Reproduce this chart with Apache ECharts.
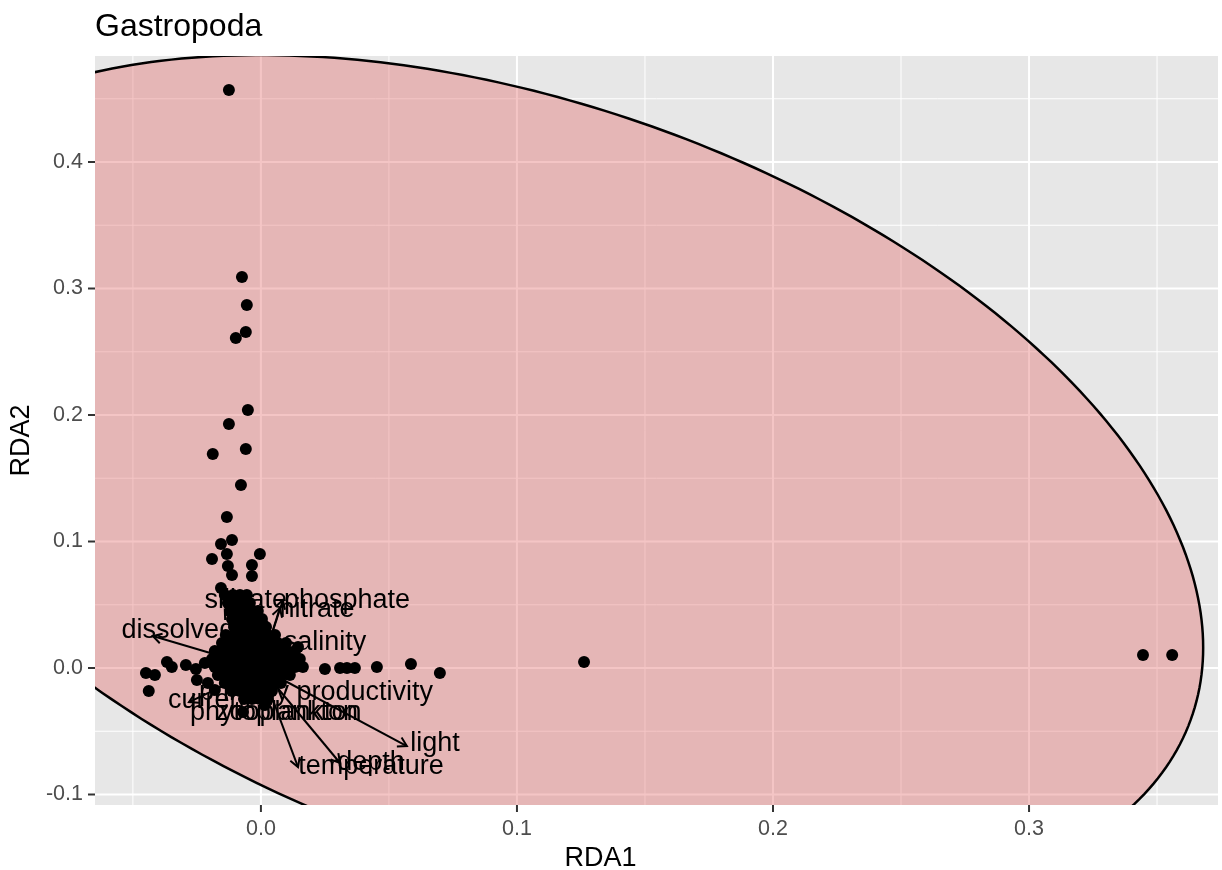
<!DOCTYPE html>
<html>
<head>
<meta charset="utf-8">
<script src="https://cdn.jsdelivr.net/npm/echarts@6/dist/echarts.min.js"></script>
<style>html,body{margin:0;padding:0;background:#fff}#chart{width:1222px;height:870px}</style>
</head>
<body>
<div id="chart"></div>
<script>
const FONT = '"Liberation Sans", Arial, Helvetica, sans-serif';

// axis ranges and ticks
const xRange = [-0.0648, 0.3738];
const yRange = [-0.1083, 0.4838];
const xTicks = [0, 0.1, 0.2, 0.3];
const xMinorTicks = [-0.05, 0.05, 0.15, 0.25, 0.35];
const yTicks = [-0.1, 0, 0.1, 0.2, 0.3, 0.4];
const yMinorTicks = [-0.05, 0.05, 0.15, 0.25, 0.35, 0.45];

// site scores (RDA1, RDA2)
const outlierSites = [
  [-0.0125,0.4569],[-0.0074,0.3091],[-0.0055,0.2870],[-0.0059,0.2656],[-0.0098,0.2609],
  [-0.0051,0.2040],[-0.0125,0.1929],[-0.0059,0.1731],[-0.0188,0.1692],[-0.0078,0.1447],
  [-0.0133,0.1194],[-0.0113,0.1012],[-0.0156,0.0980],[-0.0004,0.0901],[-0.0191,0.0862],
  [-0.0133,0.0901],[-0.0129,0.0806],[-0.0035,0.0814],[-0.0035,0.0727],[-0.0113,0.0735],
  [-0.0156,0.0632],[0.1262,0.0047],[0.3445,0.0103],[0.3559,0.0103]
];
const armSites = [
  [-0.0449,-0.0040],[-0.0414,-0.0055],[-0.0438,-0.0182],[-0.0367,0.0047],[-0.0348,0.0008],
  [-0.0293,0.0024],[-0.0254,-0.0008],[-0.0219,0.0040],[-0.0207,-0.0119],[-0.0250,-0.0095],
  [0.0145,0.0166],[0.0250,-0.0008],[0.0309,0.0000],[0.0336,0.0000],[0.0367,0.0000],
  [0.0453,0.0008],[0.0586,0.0032],[0.0699,-0.0040]
];
const clusterSites = [
  [-0.0141,0.0577],[-0.0109,0.0577],[-0.0082,0.0577],[-0.0055,0.0577],
  [-0.0129,0.0514],[-0.0098,0.0514],[-0.0066,0.0514],[-0.0043,0.0514],
  [-0.0121,0.0451],[-0.0090,0.0451],[-0.0059,0.0451],[-0.0031,0.0451],[-0.0012,0.0451],
  [-0.0113,0.0387],[-0.0082,0.0387],[-0.0051,0.0387],[-0.0023,0.0387],[0.0004,0.0387],
  [-0.0105,0.0324],[-0.0074,0.0324],[-0.0043,0.0324],[-0.0012,0.0324],[0.0020,0.0324],
  [-0.0137,0.0261],[-0.0098,0.0261],[-0.0066,0.0261],[-0.0035,0.0261],[-0.0004,0.0261],[0.0027,0.0261],[0.0055,0.0261],
  [-0.0152,0.0198],[-0.0121,0.0198],[-0.0090,0.0198],[-0.0059,0.0198],[-0.0027,0.0198],[0.0004,0.0198],[0.0035,0.0198],[0.0066,0.0198],[0.0098,0.0198],
  [-0.0180,0.0134],[-0.0148,0.0134],[-0.0117,0.0134],[-0.0086,0.0134],[-0.0055,0.0134],[-0.0023,0.0134],[0.0008,0.0134],[0.0039,0.0134],[0.0070,0.0134],[0.0102,0.0134],[0.0133,0.0134],
  [-0.0191,0.0071],[-0.0160,0.0071],[-0.0129,0.0071],[-0.0098,0.0071],[-0.0066,0.0071],[-0.0035,0.0071],[-0.0004,0.0071],[0.0027,0.0071],[0.0059,0.0071],[0.0090,0.0071],[0.0121,0.0071],[0.0152,0.0071],
  [-0.0180,0.0008],[-0.0148,0.0008],[-0.0117,0.0008],[-0.0086,0.0008],[-0.0055,0.0008],[-0.0023,0.0008],[0.0008,0.0008],[0.0039,0.0008],[0.0070,0.0008],[0.0102,0.0008],[0.0133,0.0008],[0.0164,0.0008],
  [-0.0168,-0.0055],[-0.0137,-0.0055],[-0.0105,-0.0055],[-0.0074,-0.0055],[-0.0043,-0.0055],[-0.0012,-0.0055],[0.0020,-0.0055],[0.0051,-0.0055],[0.0082,-0.0055],[0.0113,-0.0055],
  [-0.0141,-0.0119],[-0.0109,-0.0119],[-0.0078,-0.0119],[-0.0047,-0.0119],[-0.0016,-0.0119],[0.0016,-0.0119],[0.0047,-0.0119],[0.0078,-0.0119],
  [-0.0113,-0.0182],[-0.0082,-0.0182],[-0.0051,-0.0182],[-0.0020,-0.0182],[0.0012,-0.0182],[0.0043,-0.0182],
  [-0.0066,-0.0245],[-0.0035,-0.0245],[-0.0004,-0.0245],[0.0027,-0.0245],
  [-0.0070,-0.0348],[0.0016,-0.0292],[-0.0180,-0.0174]
];

// environmental biplot arrows: name, tip RDA1, tip RDA2
const envNames = ['dissolvedO2','current','silicate','phosphate','nitrate','salinity','primary productivity','phytoplankton','zooplankton','light','temperature','depth'];
const envTips = [
  [-0.0422,0.0253],[-0.0281,-0.0269],[-0.0141,0.0458],[0.0086,0.0538],[0.0074,0.0474],[0.0070,0.0190],
  [-0.0090,-0.0150],[-0.0060,-0.0270],[0.0040,-0.0280],[0.0570,-0.0617],[0.0145,-0.0783],[0.0309,-0.0751]
];
// label centres for the arrow names
const envLabelPos = [
  [-0.0254,0.0300],[-0.0199,-0.0260],[-0.0059,0.0530],[0.0336,0.0530],[0.0219,0.0460],[0.0250,0.0200],
  [0.0215,-0.0195],[0.0051,-0.0352],[0.0109,-0.0352],[0.0680,-0.0598],[0.0430,-0.0780],[0.0430,-0.0748]
];

// ellipse (centre and covariance-shape in RDA units)
const ellipseCenter = [0.1020, 0.1462];
const ellipseShape = [[0.07076, -0.03459], [-0.03459, 0.11449]];

function clipRect(params) {
  const c = params.coordSys;
  return {type: 'rect', shape: {x: c.x, y: c.y, width: c.width, height: c.height}};
}

const gridLineData = []
  .concat(xTicks.map(v => [v, 'x', 2]))
  .concat(xMinorTicks.map(v => [v, 'x', 1]))
  .concat(yTicks.map(v => [v, 'y', 2]))
  .concat(yMinorTicks.map(v => [v, 'y', 1]));
const tickMarkData = []
  .concat(xTicks.map(v => [v, 'x']))
  .concat(yTicks.map(v => [v, 'y']));

const chart = echarts.init(document.getElementById('chart'), null, {renderer: 'canvas'});
chart.setOption({
  animation: false,
  backgroundColor: '#ffffff',
  title: {
    text: 'Gastropoda', left: 95, top: 11, padding: 0,
    textStyle: {fontFamily: FONT, fontSize: 32, fontWeight: 'normal', color: '#000000'}
  },
  grid: {
    left: 95, top: 56, right: 4, bottom: 65,
    show: true, backgroundColor: '#E7E7E7', borderWidth: 0,
    containLabel: false, outerBoundsMode: 'none'
  },
  xAxis: {
    type: 'value', min: xRange[0], max: xRange[1],
    name: 'RDA1', nameLocation: 'middle', nameGap: 39,
    nameTextStyle: {fontFamily: FONT, fontSize: 27, color: '#000000', padding: [0, 112, 0, 0]},
    axisLine: {show: false, onZero: false},
    splitLine: {show: false},
    axisTick: {show: false},
    axisLabel: {customValues: xTicks, formatter: v => Number(v).toFixed(1), margin: 13,
      fontFamily: FONT, fontSize: 21.5, color: '#4D4D4D'}
  },
  yAxis: {
    type: 'value', min: yRange[0], max: yRange[1],
    name: 'RDA2', nameLocation: 'middle', nameGap: 56, nameRotate: 90,
    nameTextStyle: {fontFamily: FONT, fontSize: 27, color: '#000000', padding: [0, 20, 0, 0]},
    axisLine: {show: false, onZero: false},
    splitLine: {show: false},
    axisTick: {show: false},
    axisLabel: {customValues: yTicks, formatter: v => Number(v).toFixed(1), margin: 12,
      fontFamily: FONT, fontSize: 21.5, color: '#4D4D4D'}
  },
  series: [
    {
      type: 'custom', name: 'grid', z: 1, silent: true, clip: true,
      data: gridLineData,
      renderItem: function (params, api) {
        const c = params.coordSys;
        const d = gridLineData[params.dataIndex];
        let shape;
        if (d[1] === 'x') {
          const p = api.coord([d[0], yRange[0]]);
          shape = {x1: p[0], y1: c.y, x2: p[0], y2: c.y + c.height};
        } else {
          const p = api.coord([xRange[0], d[0]]);
          shape = {x1: c.x, y1: p[1], x2: c.x + c.width, y2: p[1]};
        }
        return {type: 'line', shape: shape, style: {stroke: '#FFFFFF', lineWidth: d[2]}};
      }
    },
    {
      type: 'custom', name: 'ticks', z: 1, silent: true, clip: false,
      data: tickMarkData,
      renderItem: function (params, api) {
        const c = params.coordSys;
        const d = tickMarkData[params.dataIndex];
        let shape;
        if (d[1] === 'x') {
          const p = api.coord([d[0], yRange[0]]);
          shape = {x1: p[0], y1: c.y + c.height, x2: p[0], y2: c.y + c.height + 7};
        } else {
          const p = api.coord([xRange[0], d[0]]);
          shape = {x1: c.x - 7, y1: p[1], x2: c.x, y2: p[1]};
        }
        return {type: 'line', shape: shape, style: {stroke: '#333333', lineWidth: 2}};
      }
    },
    {
      type: 'custom', name: 'ellipse', z: 2, silent: true, clip: true,
      data: [ellipseCenter],
      renderItem: function (params, api) {
        const a = ellipseShape[0][0], b = ellipseShape[0][1], d = ellipseShape[1][1];
        const l11 = Math.sqrt(a), l21 = b / l11, l22 = Math.sqrt(d - l21 * l21);
        const pts = [];
        for (let i = 0; i < 360; i++) {
          const t = 2 * Math.PI * i / 360, u = Math.cos(t), v = Math.sin(t);
          pts.push(api.coord([ellipseCenter[0] + l11 * u, ellipseCenter[1] + l21 * u + l22 * v]));
        }
        return {
          type: 'group', clipPath: clipRect(params),
          children: [{type: 'polygon', shape: {points: pts},
            style: {fill: 'rgba(228,110,110,0.4)', stroke: '#000000', lineWidth: 2.5}}]
        };
      }
    },
    {
      type: 'custom', name: 'arrows', z: 3, silent: true, clip: true,
      data: envTips,
      renderItem: function (params, api) {
        const p0 = api.coord([0, 0]);
        const p1 = api.coord([api.value(0), api.value(1)]);
        const ang = Math.atan2(p1[1] - p0[1], p1[0] - p0[0]);
        const L = 10, w = Math.PI / 6;
        const h1 = [p1[0] - L * Math.cos(ang - w), p1[1] - L * Math.sin(ang - w)];
        const h2 = [p1[0] - L * Math.cos(ang + w), p1[1] - L * Math.sin(ang + w)];
        return {
          type: 'group', children: [
            {type: 'line', shape: {x1: p0[0], y1: p0[1], x2: p1[0], y2: p1[1]}, style: {stroke: '#000', lineWidth: 2}},
            {type: 'polyline', shape: {points: [h1, p1, h2]}, style: {stroke: '#000', lineWidth: 2, fill: null}}
          ]
        };
      }
    },
    {
      type: 'custom', name: 'labels', z: 4, silent: true,
      data: envLabelPos,
      renderItem: function (params, api) {
        const p = api.coord([api.value(0), api.value(1)]);
        return {
          type: 'text', x: p[0], y: p[1],
          style: {text: envNames[params.dataIndex], fontFamily: FONT, fontSize: 27, fill: '#000000',
            align: 'center', verticalAlign: 'middle'}
        };
      }
    },
    {
      type: 'scatter', name: 'sites', z: 5, silent: true,
      symbol: 'circle', symbolSize: 12,
      itemStyle: {color: '#000000', opacity: 1, borderWidth: 0},
      data: clusterSites.concat(armSites).concat(outlierSites)
    }
  ]
});
</script>
</body>
</html>
